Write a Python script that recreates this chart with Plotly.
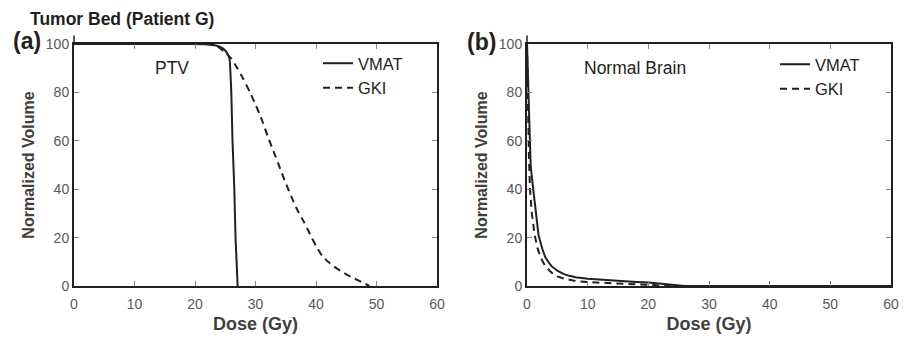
import plotly.graph_objects as go

# ---------------- data ----------------
# Panel (a) PTV
ptv_vmat_dose = [0, 20, 22, 23, 24, 24.8, 25.4, 25.7, 26.0, 26.2, 26.5, 26.7, 27.05]
ptv_vmat_vol = [100, 100, 99.9, 99.6, 99.0, 97.8, 95.8, 94.0, 80, 60, 40, 20, 0]
ptv_gki_dose = [0, 20, 22, 23, 24, 25, 26, 27, 28, 29, 30, 31, 32, 33, 34, 35, 36, 37,
                38, 39, 40, 41, 42, 43, 44, 45, 46, 47, 48, 48.8]
ptv_gki_vol = [100, 100, 99.9, 99.5, 98.5, 96.5, 94, 90, 85.5, 80.5, 75, 69, 62, 55.5,
               49, 42.5, 36.5, 31, 26.5, 21.5, 16.5, 12.5, 10, 8, 6.3, 4.8, 3.5, 2.3, 1.1, 0]
# Panel (b) Normal Brain
nb_vmat_dose = [0, 0.15, 0.3, 0.45, 0.6, 0.8, 1.1, 1.5, 1.9, 2.5, 3, 3.5, 4, 5, 6, 7, 8,
                10, 12, 15, 18, 20, 22, 24, 26, 60]
nb_vmat_vol = [100, 85, 70, 57, 50, 45, 38, 29, 21, 15.5, 12, 10, 8.3, 6.3, 5, 4.2, 3.6,
               3, 2.6, 2.1, 1.7, 1.4, 1, 0.5, 0, 0]
nb_gki_dose = [0, 0.1, 0.2, 0.33, 0.5, 0.8, 1.27, 1.8, 2.5, 3, 4, 5, 6, 8, 10, 15, 20,
               21, 22, 60]
nb_gki_vol = [100, 80, 66, 52, 40, 30, 21, 15, 10.5, 8.3, 5.6, 4, 3.1, 2.1, 1.6, 1.1,
              0.8, 0.4, 0, 0]

x_ticks = [0, 10, 20, 30, 40, 50, 60]
y_ticks = [0, 20, 40, 60, 80, 100]
series_names = ["VMAT", "GKI"]
panel_labels = ["(a)", "(b)"]
structure_labels = ["PTV", "Normal Brain"]
suptitle = "Tumor Bed (Patient G)"
x_title = "Dose (Gy)"
y_title = "Normalized Volume"

# ---------------- figure ----------------
W, H = 909, 339
ML, MR, MT, MB = 74, 18, 44, 53
PW, PH = W - ML - MR, H - MT - MB
FONT = "Liberation Sans, Arial, sans-serif"
DARK = "#231f20"
GRAY = "#58595b"
DASH = "7px,5px"


def px(x):
    return (x - ML) / PW


def py(y):
    return (H - MB - y) / PH


fig = go.Figure()

fig.add_trace(go.Scatter(x=ptv_vmat_dose, y=ptv_vmat_vol, mode="lines", name=series_names[0],
                         line=dict(color=DARK, width=2, shape="spline", smoothing=0.3),
                         xaxis="x", yaxis="y", legend="legend"))
fig.add_trace(go.Scatter(x=ptv_gki_dose, y=ptv_gki_vol, mode="lines", name=series_names[1],
                         line=dict(color=DARK, width=2, dash=DASH, shape="spline", smoothing=0.3),
                         xaxis="x", yaxis="y", legend="legend"))
fig.add_trace(go.Scatter(x=nb_vmat_dose, y=nb_vmat_vol, mode="lines", name=series_names[0],
                         line=dict(color=DARK, width=2),
                         xaxis="x2", yaxis="y2", legend="legend2"))
fig.add_trace(go.Scatter(x=nb_gki_dose, y=nb_gki_vol, mode="lines", name=series_names[1],
                         line=dict(color=DARK, width=2, dash=DASH),
                         xaxis="x2", yaxis="y2", legend="legend2"))

xa = [0, px(437)]
xb = [px(527), 1]

axis_common = dict(
    showline=True, linecolor=DARK, linewidth=2, mirror="ticks",
    ticks="inside", ticklen=5, tickwidth=1, tickcolor="#888888",
    showgrid=False, zeroline=False, automargin=False,
    tickfont=dict(family=FONT, size=14, color=GRAY),
)
xaxis_common = dict(axis_common, range=[0, 60], tickvals=x_ticks, ticklabelstandoff=4,
                    title=dict(text="<b>" + x_title + "</b>", standoff=7,
                               font=dict(family=FONT, size=18, color="#404041")))
yaxis_common = dict(axis_common, range=[0, 100], tickvals=y_ticks,
                    title=dict(text="<b>" + y_title + "</b>", standoff=7,
                               font=dict(family=FONT, size=16, color="#404041")))

legend_common = dict(xanchor="left", yanchor="top", bgcolor="rgba(0,0,0,0)",
                     font=dict(family=FONT, size=16.5, color=DARK),
                     tracegroupgap=0, itemwidth=30)

fig.update_layout(
    width=W, height=H,
    margin=dict(l=ML, r=MR, t=MT, b=MB, autoexpand=False),
    paper_bgcolor="white", plot_bgcolor="white",
    font=dict(family=FONT, color=DARK),
    xaxis=dict(xaxis_common, domain=xa, anchor="y"),
    yaxis=dict(yaxis_common, domain=[0, 1], anchor="x"),
    xaxis2=dict(xaxis_common, domain=xb, anchor="y2"),
    yaxis2=dict(yaxis_common, domain=[0, 1], anchor="x2"),
    legend=dict(legend_common, x=px(318), y=py(46)),
    legend2=dict(legend_common, x=px(775), y=py(47)),
    showlegend=True,
)

# text annotations
fig.add_annotation(x=px(28), y=py(19), xref="paper", yref="paper", xanchor="left",
                   yanchor="middle", showarrow=False, text="<b>" + suptitle + "</b>",
                   font=dict(family=FONT, size=17.5, color=DARK))
fig.add_annotation(x=px(11), y=py(41), xref="paper", yref="paper", xanchor="left",
                   yanchor="middle", showarrow=False, text="<b>" + panel_labels[0] + "</b>",
                   font=dict(family=FONT, size=23, color=DARK))
fig.add_annotation(x=px(465), y=py(42), xref="paper", yref="paper", xanchor="left",
                   yanchor="middle", showarrow=False, text="<b>" + panel_labels[1] + "</b>",
                   font=dict(family=FONT, size=23, color=DARK))
fig.add_annotation(x=16.2, y=90, xref="x", yref="y", showarrow=False,
                   text=structure_labels[0], font=dict(family=FONT, size=17.5, color=DARK))
fig.add_annotation(x=17.8, y=90, xref="x2", yref="y2", showarrow=False,
                   text=structure_labels[1], font=dict(family=FONT, size=17.5, color=DARK))

# left axis line stub extending above the frame (style detail)
for xr, yr in (("x domain", "y domain"), ("x2 domain", "y2 domain")):
    fig.add_shape(type="line", xref=xr, yref=yr, x0=0, x1=0, y0=1, y1=1.035,
                  line=dict(color=DARK, width=1.5))

fig.write_html("out.html", config={"displayModeBar": False},
               post_script="document.body.style.margin='0';document.body.style.padding='0';")
